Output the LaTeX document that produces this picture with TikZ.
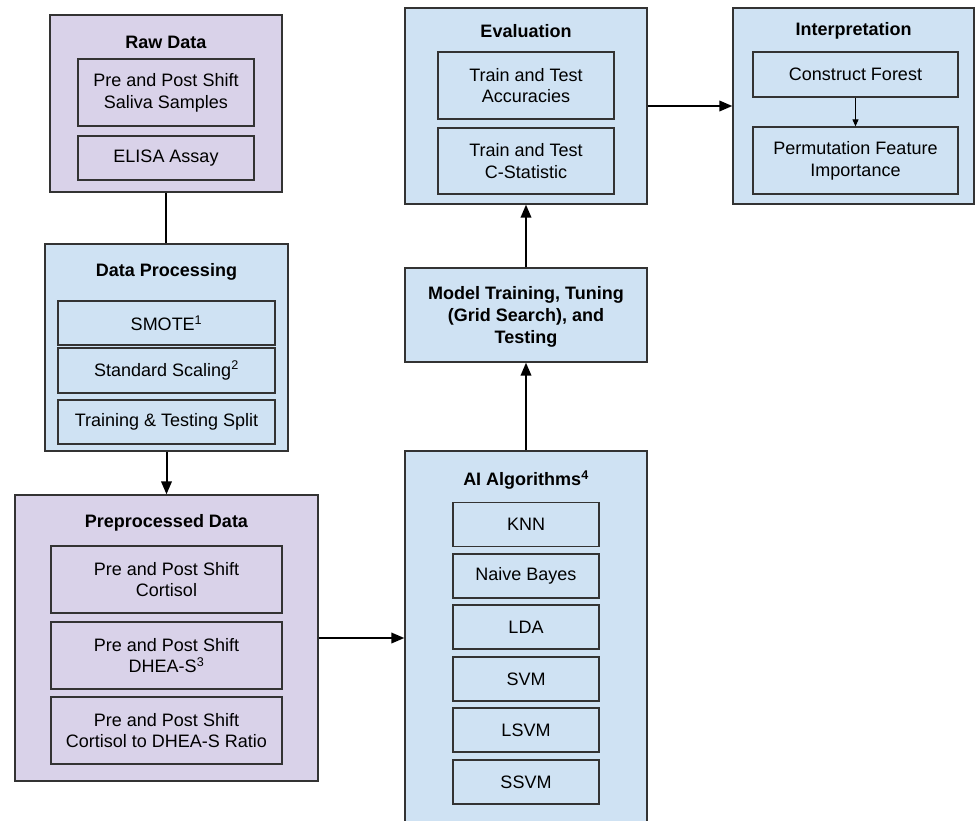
\documentclass[tikz,border=0pt]{standalone}
\usepackage{fontspec}
\setmainfont{Liberation Sans}
\usetikzlibrary{arrows.meta}
\definecolor{purp}{HTML}{D9D2E9}
\definecolor{blu}{HTML}{CFE2F3}
\definecolor{edge}{HTML}{333333}
\begin{document}
\begin{tikzpicture}[x=1pt,y=-1pt,
  outerbox/.style={draw=edge,line width=1.3pt,inner sep=0pt},
  pbox/.style={outerbox,fill=purp},
  bbox/.style={outerbox,fill=blu},
  innerbox/.style={draw=edge,line width=1.3pt,inner sep=0pt,align=center,font=\fontsize{18}{21.7}\selectfont},
  titletext/.style={inner sep=0pt,align=center,font=\fontsize{18}{22}\selectfont\bfseries},
  conn/.style={line width=2pt,draw=black},
  arr/.style={conn,-{Triangle[length=13pt,width=10.5pt]}},
  thinarr/.style={line width=1pt,-{Triangle[length=7pt,width=6pt]}}
]
\useasboundingbox (0,0) rectangle (975,820);
\clip (0,0) rectangle (975,820);

% Raw Data
\node[pbox,minimum width=232,minimum height=177] (raw) at (166,103.5) {};
\node[titletext] (rawt) at (166,42) {Raw Data};
\node[innerbox,minimum width=176,minimum height=67] (raw1) at (166,92.5) {Pre and Post Shift\\Saliva Samples};
\node[innerbox,minimum width=176,minimum height=44] (raw2) at (166,158) {ELISA Assay};

% Data Processing
\node[bbox,minimum width=243,minimum height=207] (dp) at (166.5,347.5) {};
\node[titletext] (dpt) at (166.5,272) {Data Processing};
\node[innerbox,minimum width=217,minimum height=44] (dp1) at (166.5,323) {SMOTE\textsuperscript{1}};
\node[innerbox,minimum width=217,minimum height=45] (dp2) at (166.5,370.5) {Standard Scaling\textsuperscript{2}};
\node[innerbox,minimum width=217,minimum height=44] (dp3) at (166.5,422) {Training \& Testing Split};

% Preprocessed Data
\node[pbox,minimum width=303,minimum height=286] (pp) at (166.5,638) {};
\node[titletext] (ppt) at (166.5,523) {Preprocessed Data};
\node[innerbox,minimum width=231,minimum height=67] (pp1) at (166.5,579.5) {Pre and Post Shift\\Cortisol};
\node[innerbox,minimum width=231,minimum height=67] (pp2) at (166.5,655.5) {Pre and Post Shift\\DHEA-S\textsuperscript{3}};
\node[innerbox,minimum width=231,minimum height=67] (pp3) at (166.5,730.5) {Pre and Post Shift\\Cortisol to DHEA-S Ratio};

% AI Algorithms
\node[bbox,minimum width=242,minimum height=379] (ai) at (526,640.5) {};
\node[titletext] (ait) at (526,480) {AI Algorithms\textsuperscript{4}};
\node[innerbox,minimum width=146,minimum height=44] (a1) at (526,524.5) {KNN};
\node[innerbox,minimum width=146,minimum height=44] (a2) at (526,576) {Naive Bayes};
\node[innerbox,minimum width=146,minimum height=44] (a3) at (526,627) {LDA};
\node[innerbox,minimum width=146,minimum height=44] (a4) at (526,679) {SVM};
\node[innerbox,minimum width=146,minimum height=44] (a5) at (526,730) {LSVM};
\node[innerbox,minimum width=146,minimum height=44] (a6) at (526,782) {SSVM};

% Model Training
\node[bbox,minimum width=242,minimum height=94] (mt) at (526,315) {};
\node[titletext] (mtt) at (526,317) {Model Training, Tuning\\(Grid Search), and\\Testing};

% Evaluation
\node[bbox,minimum width=242,minimum height=196] (ev) at (526,106) {};
\node[titletext] (evt) at (526,31) {Evaluation};
\node[innerbox,minimum width=176,minimum height=67] (ev1) at (526,85.5) {Train and Test\\Accuracies};
\node[innerbox,minimum width=176,minimum height=66] (ev2) at (526,161) {Train and Test\\C-Statistic};

% Interpretation
\node[bbox,minimum width=241,minimum height=196] (ip) at (853.5,106) {};
\node[titletext] (ipt) at (853.5,31) {Interpretation};
\node[innerbox,minimum width=205,minimum height=45] (ip1) at (855.5,74.5) {Construct Forest};
\node[innerbox,minimum width=205,minimum height=67] (ip2) at (855.5,160.5) {Permutation Feature\\Importance};

% Connectors
\draw[conn] (raw.south) -- (raw.south |- dp.north);
\draw[arr] (dp.south) -- (dp.south |- pp.north);
\draw[arr] (pp.east) -- (pp.east -| ai.west);
\draw[arr] (ai.north) -- (mt.south);
\draw[arr] (mt.north) -- (ev.south);
\draw[arr] (ev.east) -- (ev.east -| ip.west);
\draw[thinarr] (ip1.south) -- (ip2.north);
\end{tikzpicture}
\end{document}
